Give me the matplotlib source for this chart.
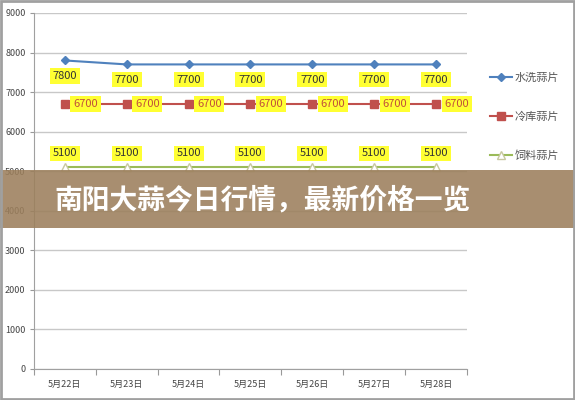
import matplotlib.pyplot as plt
from matplotlib.patches import Rectangle

plt.rcParams['font.family'] = ['Noto Sans CJK SC', 'DejaVu Sans']

# 数据
dates = ['5月22日', '5月23日', '5月24日', '5月25日', '5月26日', '5月27日', '5月28日']
names = ['水洗蒜片', '冷库蒜片', '饲料蒜片']
shuixi = [7800, 7700, 7700, 7700, 7700, 7700, 7700]
lengku = [6700, 6700, 6700, 6700, 6700, 6700, 6700]
siliao = [5100, 5100, 5100, 5100, 5100, 5100, 5100]
title = '南阳大蒜今日行情，最新价格一览'

fig = plt.figure(figsize=(5.75, 4), dpi=100)
ax = fig.add_axes([0.059, 0.0775, 0.753, 0.89])
x = range(len(dates))

ax.plot(x, shuixi, color='#4F81BD', marker='D', markersize=4, lw=1.5, label=names[0])
ax.plot(x, lengku, color='#C0504D', marker='s', markersize=6, lw=1.5, label=names[1])
ax.plot(x, siliao, color='#9BBB59', marker='^', markersize=6, lw=1.5,
        markerfacecolor='white', markeredgecolor='#C8C8A0', label=names[2])

box = dict(boxstyle='square,pad=0.25', fc='#FFFF33', ec='none')
for i, v in enumerate(shuixi):
    ax.annotate(str(v), (i, v), xytext=(0, -11), textcoords='offset points',
                ha='center', va='center', fontsize=8, color='#333333', bbox=box)
for i, v in enumerate(lengku):
    ax.annotate(str(v), (i, v), xytext=(6, 0), textcoords='offset points',
                ha='left', va='center', fontsize=8, color='#C0503A', bbox=box)
for i, v in enumerate(siliao):
    ax.annotate(str(v), (i, v), xytext=(0, 10), textcoords='offset points',
                ha='center', va='center', fontsize=8, color='#333333', bbox=box)

ax.set_xlim(-0.5, len(dates) - 0.5)
ax.set_ylim(0, 9000)
ax.set_yticks(range(0, 9001, 1000))
ax.set_xticks([i + 0.5 for i in range(-1, len(dates))], minor=False)
ax.set_xticklabels([])
ax.set_xticks(list(x), minor=True)
ax.set_xticklabels(dates, minor=True)
ax.tick_params(axis='x', which='minor', length=0, labelsize=6.5, pad=8, colors='#444444')
ax.tick_params(axis='x', which='major', length=4, color='#999999')
ax.tick_params(axis='y', length=3, color='#999999', labelsize=6.5, labelcolor='#444444', pad=3)
ax.grid(axis='y', color='#C8C8C8', lw=1)
ax.set_axisbelow(True)
for s in ['top', 'right']:
    ax.spines[s].set_visible(False)
for s in ['left', 'bottom']:
    ax.spines[s].set_color('#A0A0A0')

leg = ax.legend(loc='upper left', bbox_to_anchor=(1.03, 0.86), frameon=False,
                fontsize=8, labelspacing=2.55, handlelength=2.0, handletextpad=0.2)
for t in leg.get_texts():
    t.set_color('#555555')

# 标题横幅
fig.patches.append(Rectangle((0, 0.43), 1, 0.145, transform=fig.transFigure,
                             fc='#9C7F5C', alpha=0.88, ec='none', zorder=5))
fig.text(0.456, 0.5, title, ha='center', va='center', fontsize=20,
         fontweight='bold', color='white', zorder=6)
fig.patches.append(Rectangle((0.002, 0.003), 0.996, 0.994, transform=fig.transFigure,
                             fc='none', ec='#A0A0A0', lw=2, zorder=7))

fig.savefig('out.png', dpi=100)
